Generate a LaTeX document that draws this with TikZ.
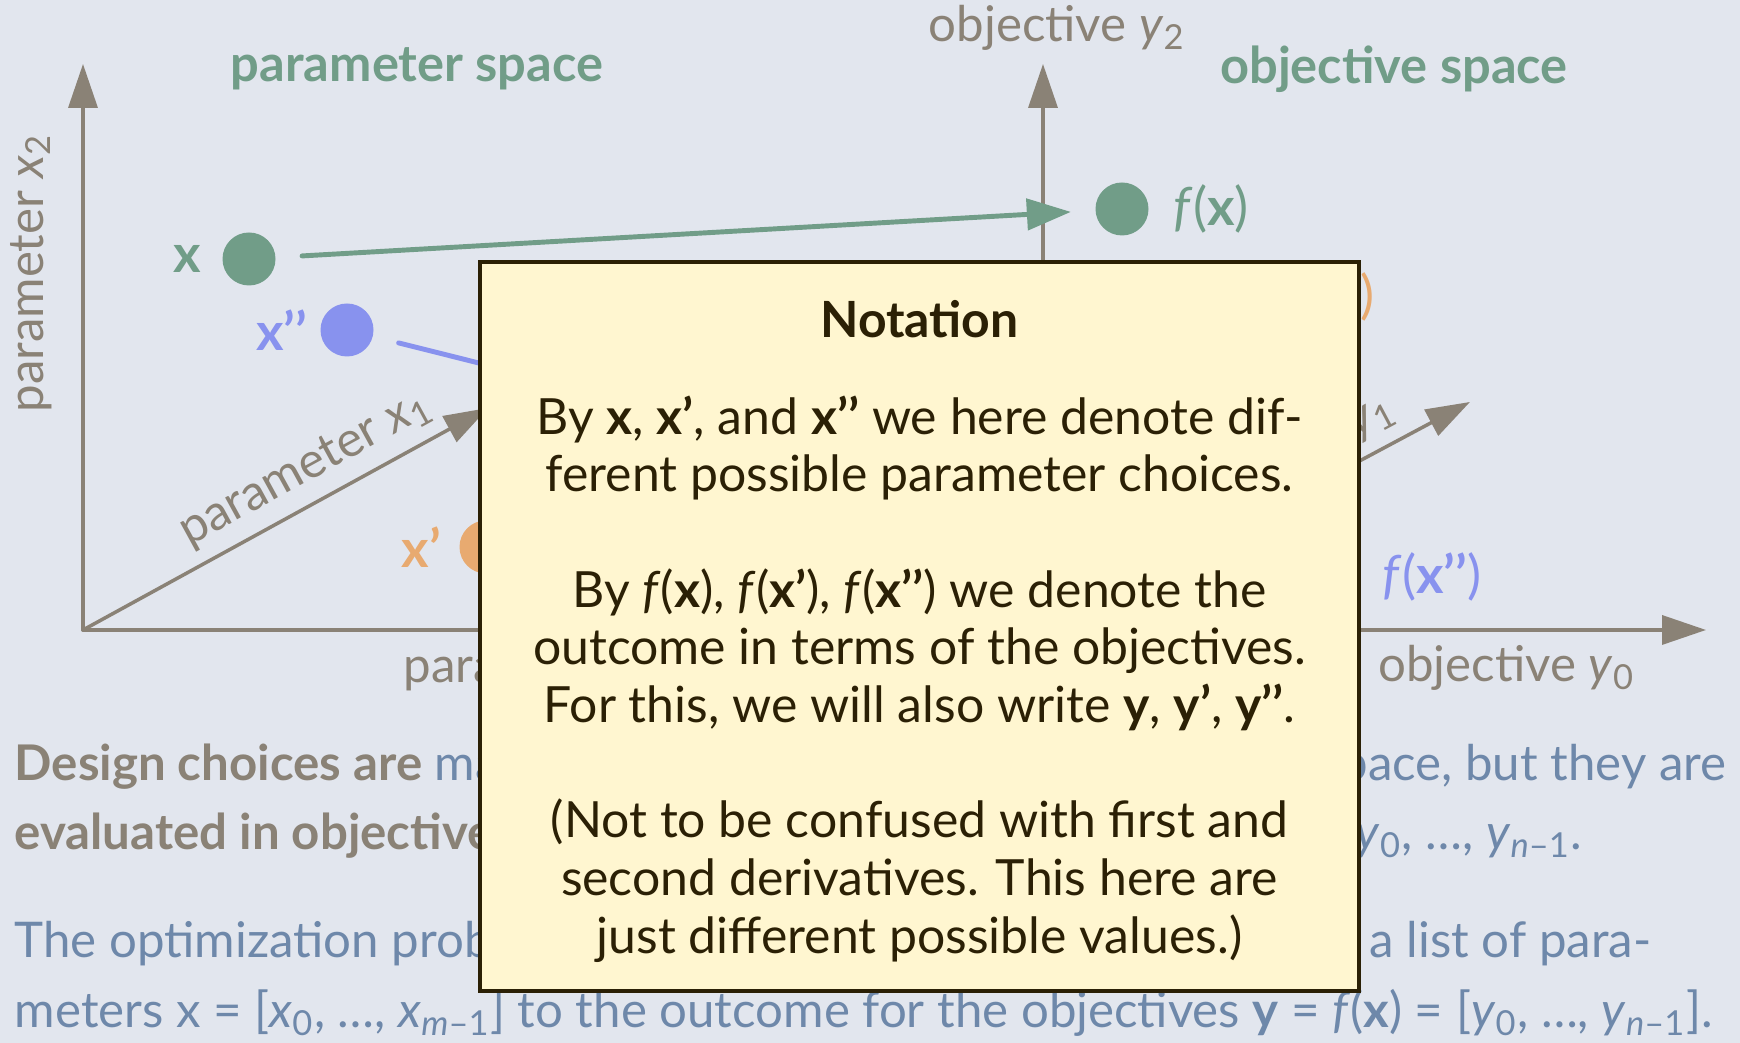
\documentclass[tikz,border=0pt]{standalone}
\usepackage{fontspec}
\setmainfont{Lato}
\usetikzlibrary{arrows.meta,positioning}
\definecolor{paperbg}{RGB}{226,230,238}
\definecolor{axisgrey}{RGB}{138,130,118}
\definecolor{spacegreen}{RGB}{113,157,136}
\definecolor{choiceblue}{RGB}{136,146,238}
\definecolor{choiceorange}{RGB}{232,170,112}
\definecolor{notefill}{RGB}{255,246,208}
\definecolor{noteink}{RGB}{43,32,5}
\definecolor{proseblue}{RGB}{110,136,170}
\newcommand{\isub}[2]{\textit{#1}\textsubscript{#2}}

\begin{document}
\begin{tikzpicture}[>=Stealth,line cap=round,
 axis/.style={axisgrey,line width=1pt,-{Triangle[length=.44cm,width=.29cm]}},
 axislabel/.style={axisgrey,font=\fontsize{14pt}{16pt}\selectfont},
 spacetitle/.style={spacegreen,font=\fontsize{14.4pt}{17pt}\selectfont\bfseries},
 choice/.style={circle,inner sep=0,minimum size=.53cm},
 choicelabel/.style={inner sep=0,font=\fontsize{15pt}{17pt}\selectfont},
 mapsto/.style={line width=1.4pt,-{Triangle[length=.44cm,width=.31cm]},shorten <=.26cm,shorten >=.24cm},
 prose/.style={inner sep=0,font=\fontsize{14pt}{16pt}\selectfont},
 notebox/.style={draw=noteink,fill=notefill,line width=1pt,
  minimum width=8.79cm,minimum height=7.29cm},
 notetext/.style={text=noteink,align=center,font=\fontsize{14.2pt}{16.4pt}\selectfont}]
 \useasboundingbox (0,0) rectangle (17.40,10.43);
 \fill[paperbg] (0,0) rectangle (17.40,10.43);
 % parameter space axes
 \coordinate (PO) at (0.83,4.13);
 \coordinate (P0) at (10.2,4.13);
 \coordinate (P1) at (4.88,6.35);
 \coordinate (P2) at (0.83,9.79);
 \draw[axis] (PO) -- (P2);
 \draw[axis] (PO) -- (P0);
 \draw[axis] (PO) -- (P1)
  node[axislabel,pos=.59,above,sloped] {parameter \isub{x}{1}};
 \node[axislabel,rotate=90] at (0.31,7.70) {parameter \isub{x}{2}};
 \node[axislabel,anchor=base west] at (3.91,3.60) {parameter \isub{x}{0}};
 \node[spacetitle] at (4.17,9.74) {parameter space};
 % objective space axes
 \coordinate (OO) at (10.43,4.13);
 \coordinate (O0) at (17.06,4.13);
 \coordinate (O1) at (14.70,6.41);
 \coordinate (O2) at (10.43,9.79);
 \draw[axis] (OO) -- (O0);
 \draw[axis] (OO) -- (O2);
 \draw[axis] (OO) -- (O1)
  node[axislabel,pos=.59,above,sloped] {objective \isub{y}{1}};
 \node[axislabel] at (10.57,10.15) {objective \isub{y}{2}};
 \node[axislabel,anchor=base west] at (13.66,3.61) {objective \isub{y}{0}};
 \node[spacetitle] at (13.94,9.74) {objective space};
 % parameter choices and their outcomes
 \node[choice,fill=spacegreen] (x) at (2.49,7.84) {};
 \node[choice,fill=choiceblue] (xpp) at (3.47,7.13) {};
 \node[choice,fill=choiceorange] (xp) at (4.86,4.96) {};
 \node[choice,fill=spacegreen] (fx) at (11.22,8.34) {};
 \node[choice,fill=choiceorange] (fxp) at (12.36,7.46) {};
 \node[choice,fill=choiceblue] (fxpp) at (13.33,4.66) {};
 \node[choicelabel,spacegreen,left=.2cm of x] {\textbf{x}};
 \node[choicelabel,choiceblue,left=.12cm of xpp] {\textbf{x’’}};
 \node[choicelabel,choiceorange,left=.17cm of xp] {\textbf{x’}};
 \node[choicelabel,spacegreen,right=.24cm of fx] {\textit{f}(\textbf{x})};
 \node[choicelabel,choiceorange,right=.24cm of fxp] {\textit{f}(\textbf{x’})};
 \node[choicelabel,choiceblue,right=.22cm of fxpp] {\textit{f}(\textbf{x’’})};
 \draw[mapsto,spacegreen] (x) -- (fx);
 \draw[mapsto,choiceblue] (xpp) -- (fxpp);
 \draw[mapsto,choiceorange] (xp) -- (fxp);
 % prose below the axes
 \node[prose,anchor=base west,axisgrey] at (0.14,2.62)
  {\textbf{Design choices are} \textcolor{proseblue}{made}};
 \node[prose,anchor=base east,proseblue] at (17.27,2.62) {space, but they are};
 \node[prose,anchor=base west,axisgrey] at (0.14,1.93) {\textbf{evaluated in objective}};
 \node[prose,anchor=base east,proseblue] at (15.83,1.93)
  {\isub{y}{0}, …, \isub{y}{\textit{n}–1}.};
 \node[prose,anchor=base west,proseblue] at (0.14,0.85) {The optimization problem};
 \node[prose,anchor=base east,proseblue] at (16.52,0.85) {a list of para-};
 \node[prose,anchor=base west,proseblue] at (0.14,0.15)
  {meters x = [\isub{x}{0}, …, \isub{x}{\textit{m}–1}] to the outcome for the objectives
   \textbf{y} = \textit{f}(\textbf{x}) = [\isub{y}{0}, …, \isub{y}{\textit{n}–1}].};
 % notation box
 \node[notebox] (note) at (9.195,4.165) {};
 \node[notetext] (notetext) at ([yshift=-.05cm]note.center) {%
  \textbf{Notation}\\[.385cm]
  By \textbf{x}, \textbf{x’}, and \textbf{x’’} we here denote dif-\\
  ferent possible parameter choices.\\[.577cm]
  By \textit{f}(\textbf{x}), \textit{f}(\textbf{x’}), \textit{f}(\textbf{x’’}) we denote the\\
  outcome in terms of the objectives.\\
  For this, we will also write \textbf{y}, \textbf{y’}, \textbf{y’’}.\\[.577cm]
  (Not to be confused with first and\\
  second derivatives. This here are\\
  just different possible values.)};
\end{tikzpicture}
\end{document}
